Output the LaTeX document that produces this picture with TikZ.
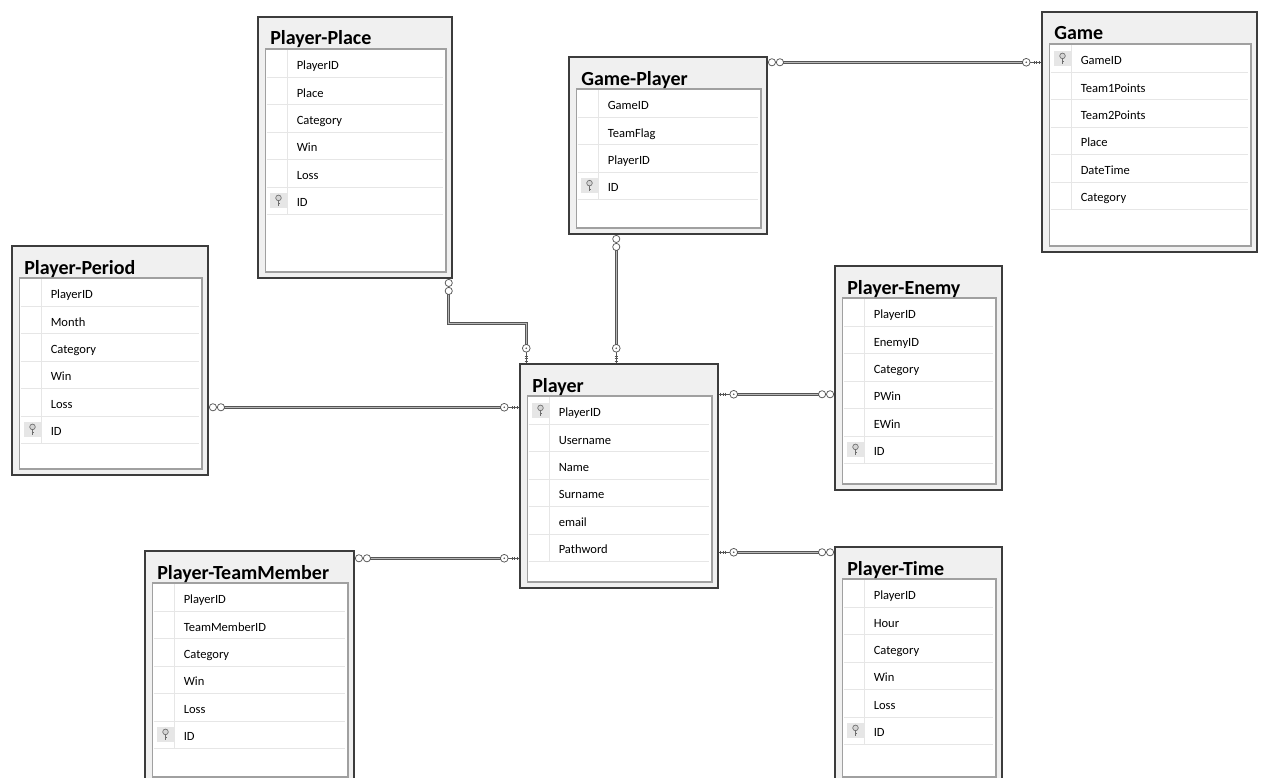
\documentclass[tikz,border=0pt]{standalone}
\usepackage{fontspec}
\setmainfont{Carlito}
\usetikzlibrary{fit}

\definecolor{boxgray}{HTML}{F0F0F0}
\definecolor{boxedge}{HTML}{3C3C3C}
\definecolor{inedge}{HTML}{A0A0A0}
\definecolor{rowgray}{HTML}{E6E6E6}
\definecolor{linkdark}{HTML}{555555}
\definecolor{linklight}{HTML}{B8B8B8}
\definecolor{keybg}{HTML}{E6E6E6}
\definecolor{keyfg}{HTML}{6E6E6E}
\definecolor{keyfill}{HTML}{D4D4D4}

\tikzset{
  tabouter/.style={draw=boxedge, fill=boxgray, line width=1.1pt, inner sep=0pt},
  tabinner/.style={draw=inedge, fill=white, line width=0.9pt, inner sep=0pt},
  tabtitle/.style={font=\bfseries\fontsize{15}{17}\selectfont, inner sep=0pt},
  field/.style={font=\fontsize{9.4}{11}\selectfont, inner sep=0pt},
  rowline/.style={draw=rowgray, line width=0.7pt},
  link/.style={draw=linkdark, double=linklight, double distance=0.9pt,
    line width=0.55pt, shorten <=10pt, shorten >=11pt},
  endmark/.style={draw=linkdark, fill=white, line width=0.55pt},
  pics/manyend/.style={code={
    \draw[endmark] (4.2,0) circle[radius=2.7pt] (12.2,0) circle[radius=2.7pt];
  }},
  pics/keyend/.style={code={
    \draw[linkdark, line width=0.5pt] (0,0) -- (11,0);
    \foreach \t in {2,4.5,7}
      \draw[linkdark, line width=0.5pt] (\t,-1.6) -- (\t,1.6);
    \draw[endmark] (15,0) circle[radius=2.9pt];
    \fill[linkdark] (15,0) circle[radius=0.7pt];
  }},
  pics/pkey/.style={code={
    \fill[keybg] (-8.5,-7.5) rectangle (8.5,7.5);
    \draw[keyfg, fill=keyfill, line width=0.5pt] (0,-2.8) circle[radius=2.1pt];
    \draw[keyfg, line width=1.1pt] (0,-0.3) -- (0,5);
    \draw[keyfg, line width=0.5pt] (0,3) -- (1.9,3);
  }}
}

% name, left, top, right, bottom, title, fields, key row
\newcommand{\dbtable}[8]{
  \node[tabouter, fit={(#2,#3) (#4,#5)}] (#1) {};
  \node[tabinner, fit={(#2+7.5,#3+32) (#4-6,#5-6)}] (#1-in) {};
  \node[tabtitle, anchor=base west] (#1-title) at (#2+12,#3+28) {#6};
  \foreach \f [count=\i] in {#7} {
    \draw[rowline] (#2+8.5,#3+33+\i*27.4) -- (#4-9,#3+33+\i*27.4);
    \draw[rowline] (#2+29.5,#3+5.6+\i*27.4) -- (#2+29.5,#3+33+\i*27.4);
    \node[field, anchor=base west] (#1-\i) at (#2+38.5,#3+25.3+\i*27.4) {\f};
  }
  \pic at (#2+20.5,#3+19.3+#8*27.4) {pkey};
}

\begin{document}
\begin{tikzpicture}[x=0.75pt, y=-0.75pt]

\useasboundingbox (0,0) rectangle (1261,778);
\fill[white] (0,0) rectangle (1261,778);
\clip (0,0) rectangle (1261,778);

\dbtable{place}{258}{17}{452}{278}{Player-Place}{PlayerID,Place,Category,Win,Loss,ID}{6}
\dbtable{gp}{569}{57}{767}{234}{Game-Player}{GameID,TeamFlag,PlayerID,ID}{4}
\dbtable{game}{1042}{12}{1257}{252}{Game}{GameID,Team1Points,Team2Points,Place,DateTime,Category}{1}
\dbtable{period}{12}{246}{208}{475}{Player-Period}{PlayerID,Month,Category,Win,Loss,ID}{6}
\dbtable{player}{520}{364}{718}{588}{Player}{PlayerID,Username,Name,Surname,email,Pathword}{1}
\dbtable{enemy}{835}{266}{1002}{490}{Player-Enemy}{PlayerID,EnemyID,Category,PWin,EWin,ID}{6}
\dbtable{team}{145}{551}{354}{783}{Player-TeamMember}{PlayerID,TeamMemberID,Category,Win,Loss,ID}{6}
\dbtable{time}{835}{547}{1002}{783}{Player-Time}{PlayerID,Hour,Category,Win,Loss,ID}{6}

% link ends
\coordinate (gp-r) at ([shift={(0,6)}]gp.north east);
\coordinate (gp-b) at ([shift={(48,0)}]gp.south west);
\coordinate (pl-b) at ([shift={(-4,0)}]place.south east);
\coordinate (pl-t) at ([shift={(7,0)}]player.north west);
\coordinate (pe-r) at ([shift={(0,162)}]period.north east);
\coordinate (en-l) at ([shift={(0,129)}]enemy.north west);
\coordinate (tm-r) at ([shift={(0,8)}]team.north east);
\coordinate (ti-l) at ([shift={(0,6)}]time.north west);

\path
    (gp-r) edge[link] (gp-r -| game.west)
    (gp-b) edge[link] (gp-b |- player.north)
    (pl-b) edge[link, to path={-- ++(0,45) -| (\tikztotarget)}] (pl-t)
    (pe-r) edge[link] (pe-r -| player.west)
    (en-l) edge[link] (en-l -| player.east)
    (tm-r) edge[link] (tm-r -| player.west)
    (ti-l) edge[link] (ti-l -| player.east);

\pic[rotate=0] at (gp-r) {manyend};
\pic[rotate=180] at (gp-r -| game.west) {keyend};
\pic[rotate=-90] at (gp-b) {manyend};
\pic[rotate=90] at (gp-b |- player.north) {keyend};
\pic[rotate=-90] at (pl-b) {manyend};
\pic[rotate=90] at (pl-t) {keyend};
\pic[rotate=0] at (pe-r) {manyend};
\pic[rotate=180] at (pe-r -| player.west) {keyend};
\pic[rotate=180] at (en-l) {manyend};
\pic[rotate=0] at (en-l -| player.east) {keyend};
\pic[rotate=0] at (tm-r) {manyend};
\pic[rotate=180] at (tm-r -| player.west) {keyend};
\pic[rotate=180] at (ti-l) {manyend};
\pic[rotate=0] at (ti-l -| player.east) {keyend};

\end{tikzpicture}
\end{document}
